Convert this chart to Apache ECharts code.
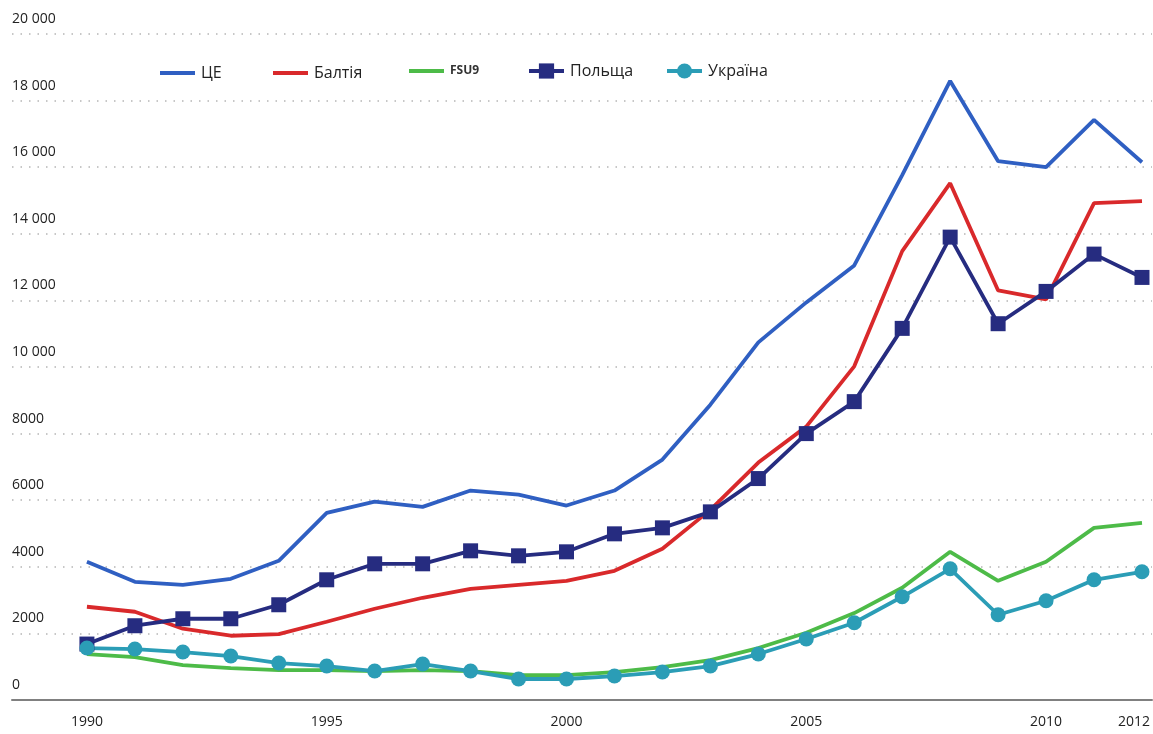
<!DOCTYPE html>
<html>
<head>
<meta charset="utf-8">
<script src="https://cdn.jsdelivr.net/npm/echarts@6/dist/echarts.min.js"></script>
<style>
html,body{margin:0;padding:0;background:#fff;}
#chart{width:1153px;height:734px;}
</style>
</head>
<body>
<div id="chart"></div>
<script>
const years = [1990,1991,1992,1993,1994,1995,1996,1997,1998,1999,2000,2001,2002,2003,2004,2005,2006,2007,2008,2009,2010,2011,2012];
const ce     = [4150,3550,3460,3640,4180,5620,5960,5800,6290,6170,5840,6290,7220,8870,10740,11940,13050,15760,18590,16180,16000,17420,16150];
const baltia = [2800,2650,2140,1930,1980,2350,2740,3070,3340,3460,3580,3880,4540,5710,7130,8210,10020,13480,15520,12300,12030,14920,14980];
const fsu9   = [1380,1290,1050,960,900,900,870,900,870,750,750,840,990,1200,1560,2020,2610,3370,4450,3580,4150,5170,5320];
const poland = [1680,2230,2440,2440,2860,3610,4090,4090,4480,4330,4450,4990,5170,5650,6650,8000,8960,11160,13900,11300,12270,13390,12690];
const ukraine= [1560,1530,1440,1320,1110,1020,870,1080,870,630,630,720,840,1020,1380,1830,2320,3100,3940,2560,2980,3610,3850];
const xTickLabels = [1990,1995,2000,2005,2010,2012];
const seriesNames = ['ЦЕ','Балтія','FSU9','Польща','Україна'];

const colors = ['#2f5fc2','#d9292b','#4dbb48','#262c80','#2b9db6'];
const zip = arr => years.map((y,i)=>[y, arr[i]]);
const font = "'Open Sans', 'Noto Sans', sans-serif";

const chart = echarts.init(document.getElementById('chart'));
const legendPos = [155, 268, 404, 522, 660];
const legends = seriesNames.map((n,i)=>{
  const plain = i < 3;
  return {
    data:[ i===2 ? {name:n, textStyle:{fontSize:12, fontWeight:'bold', color:'#333'}} : n ],
    left: legendPos[i],
    top: plain ? 60 : 58,
    icon: plain ? 'rect' : undefined,
    itemWidth: 35,
    itemHeight: plain ? 4 : 19,
    itemGap: 0,
    lineStyle: {width: 4},
    textStyle:{fontFamily:font, fontSize:16, color:'#222', padding:[0,0,0,1]},
    selectedMode:false
  };
});

function mkLine(idx, arr, extra){
  return Object.assign({
    name: seriesNames[idx],
    type:'line',
    data: zip(arr),
    symbol:'none',
    smooth:false,
    lineStyle:{width:3.8, color:colors[idx]},
    itemStyle:{color:colors[idx]},
    emphasis:{disabled:true},
    animation:false
  }, extra||{});
}

chart.setOption({
  backgroundColor:'#fff',
  legend: legends,
  grid:{left:12, right:0, top:34, bottom:34, containLabel:false},
  xAxis:{
    type:'value',
    min: 1990 - 75/48,
    max: 2012 + 10/48,
    axisLine:{show:true, lineStyle:{color:'#808080', width:2}},
    axisTick:{show:false},
    splitLine:{show:false},
    axisLabel:{
      customValues: xTickLabels,
      margin:15,
      fontFamily:font, fontSize:14, color:'#222',
      formatter: v => v===2012 ? '{r|2012}' : String(v),
      rich:{r:{padding:[0,16,0,0], fontFamily:font, fontSize:14, color:'#222'}}
    }
  },
  yAxis:{
    type:'value',
    min:0, max:20000, interval:2000,
    axisLine:{show:false},
    axisTick:{show:false},
    splitLine:{show:true, lineStyle:{color:'#b5b5b5', width:1.5, type:[1.5,7]}},
    axisLabel:{
      inside:true, margin:0, align:'left', verticalAlign:'bottom',
      padding:[0,0,8,0],
      fontFamily:font, fontSize:14, color:'#222',
      formatter: v => v>=10000 ? String(v).replace(/(\d+)(\d{3})$/, '$1 $2') : String(v)
    }
  },
  series:[
    mkLine(0, ce),
    mkLine(1, baltia),
    mkLine(2, fsu9),
    mkLine(3, poland, {symbol:'rect', symbolSize:15, showSymbol:true}),
    mkLine(4, ukraine, {symbol:'circle', symbolSize:15, showSymbol:true})
  ]
});
</script>
</body>
</html>
